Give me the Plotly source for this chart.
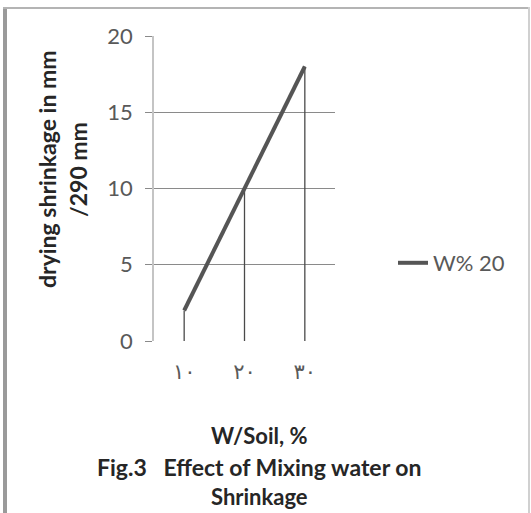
import plotly.graph_objects as go

categories = ["١٠", "٢٠", "٣٠"]
shrinkage = [2, 10, 18]
series_name = "W% 20"
y_ticks = [0, 5, 10, 15, 20]

W, H = 531, 513
L, R, T, B = 154, 335, 36, 341
FONT = "Lato"

def px(x):
    return (x - L) / (R - L)

def py(y):
    return (B - y) / (B - T)

fig = go.Figure()

# drop lines from each point to the axis
dx, dy = [], []
for c, v in zip(categories, shrinkage):
    dx += [c, c, None]
    dy += [0, v, None]
fig.add_trace(go.Scatter(x=dx, y=dy, mode="lines", line=dict(color="#4a4a4a", width=1.3),
                         showlegend=False, hoverinfo="skip"))

fig.add_trace(go.Scatter(x=categories, y=shrinkage, mode="lines", name=series_name,
                         line=dict(color="#555555", width=4)))

fig.update_xaxes(type="category", range=[-0.5, 2.5], showgrid=False, zeroline=False,
                 showline=False, ticks="", tickfont=dict(family="DejaVu Sans", size=21, color="#595959"),
                 ticklabelstandoff=16, fixedrange=True)
fig.update_yaxes(range=[0, 20], tickvals=y_ticks, showgrid=True, gridcolor="#8a8a8a", gridwidth=1,
                 zeroline=False, showline=True, linecolor="#c4c4c4", linewidth=1.5,
                 ticks="outside", ticklen=7, tickcolor="#8a8a8a", ticklabelstandoff=8,
                 tickfont=dict(family=FONT, size=22, color="#595959"), fixedrange=True)

ann = []
ann.append(dict(text="<b>drying shrinkage in mm</b>", x=px(47), y=py(169), xref="paper", yref="paper",
                textangle=-90, showarrow=False, font=dict(family=FONT, size=23, color="#262626"),
                xanchor="center", yanchor="middle"))
ann.append(dict(text="<b>/290 mm</b>", x=px(78), y=py(170), xref="paper", yref="paper",
                textangle=-90, showarrow=False, font=dict(family=FONT, size=23, color="#262626"),
                xanchor="center", yanchor="middle"))
for txt, yy, fs in [("W/Soil, %", 435, 22),
                    ("Fig.3&nbsp;&nbsp;&nbsp;Effect of Mixing water on", 467, 23),
                    ("Shrinkage", 497, 22)]:
    ann.append(dict(text="<b>" + txt + "</b>", x=px(259), y=py(yy), xref="paper", yref="paper",
                    showarrow=False, font=dict(family=FONT, size=fs, color="#262626"),
                    xanchor="center", yanchor="middle"))

shapes = [
    dict(type="line", xref="paper", yref="paper", x0=px(5), x1=px(5), y0=py(7), y1=py(520),
         line=dict(color="#9a9a9a", width=4)),
    dict(type="line", xref="paper", yref="paper", x0=px(3), x1=px(530), y0=py(8), y1=py(8),
         line=dict(color="#b4b4b4", width=2)),
    dict(type="line", xref="paper", yref="paper", x0=px(529), x1=px(529), y0=py(7), y1=py(520),
         line=dict(color="#d0d0d0", width=2)),
]

fig.update_layout(
    width=W, height=H,
    margin=dict(l=L, r=W - R, t=T, b=H - B, pad=0),
    paper_bgcolor="white", plot_bgcolor="white",
    showlegend=True,
    legend=dict(x=px(393), y=py(263), xanchor="left", yanchor="middle",
                font=dict(family=FONT, size=22, color="#595959"), bgcolor="rgba(0,0,0,0)",
                itemwidth=30),
    annotations=ann, shapes=shapes,
)

fig.write_html("out.html", config={"displayModeBar": False},
               post_script="document.body.style.margin='0';")
